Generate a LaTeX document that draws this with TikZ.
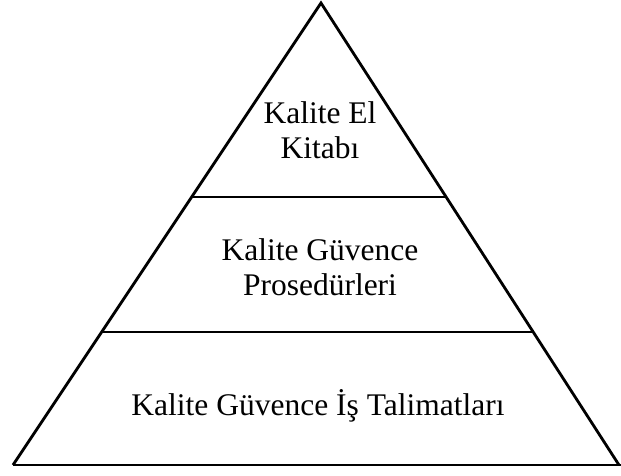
\documentclass[tikz,border=0pt]{standalone}
\usepackage{fontspec}
\setmainfont{Liberation Serif}
\usetikzlibrary{calc}
\begin{document}
\begin{tikzpicture}[x=1pt,y=-1pt,
  edge/.style={line width=2.8pt,line join=miter},
  tier/.style={line width=2pt},
  label/.style={align=center,inner sep=0pt,font=\fontsize{31.5}{35}\selectfont}]
\useasboundingbox (0,0) rectangle (621,475);
% outline of the pyramid
\coordinate (apex) at (321,3);
\coordinate (bl) at (13,465);
\coordinate (br) at (619,465);
\draw[edge] (bl) -- (apex) -- (br);
\draw[tier] (bl) -- (621,465);
% tier boundaries, ending on the slanted sides
\draw[tier] ($(apex)!0.42!(bl)$) -- ($(apex)!0.42!(br)$);
\draw[tier] ($(apex)!0.712!(bl)$) -- ($(apex)!0.712!(br)$);
% tier labels (base anchor = baseline of the last line)
\node[label,anchor=base] (top) at (320,158) {Kalite El\\Kitabı};
\node[label,anchor=base] (mid) at (320,295) {Kalite Güvence\\Prosedürleri};
\node[label,anchor=base] (bot) at (318,415) {Kalite Güvence İş Talimatları};
\end{tikzpicture}
\end{document}
